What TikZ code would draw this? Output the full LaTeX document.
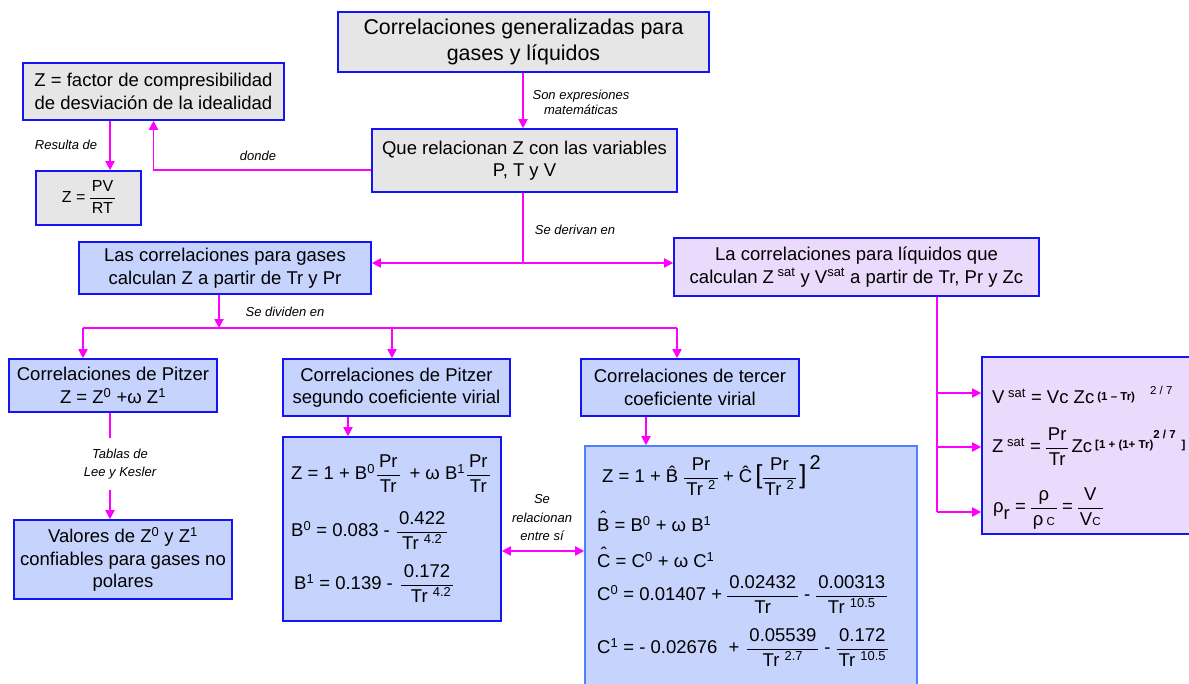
\documentclass[tikz,border=0pt]{standalone}
\usepackage{fontspec}
\setmainfont{Liberation Sans}
\usetikzlibrary{arrows.meta}
\definecolor{gfill}{RGB}{230,230,230}
\definecolor{bfill}{RGB}{198,211,252}
\definecolor{lfill}{RGB}{234,218,252}
\definecolor{bblue}{RGB}{20,20,245}
\definecolor{mblue}{RGB}{80,128,255}
\definecolor{mag}{RGB}{255,0,255}
\newcommand{\fs}{\fontsize{18.5}{22.5}\selectfont}
\newcommand{\fsA}{\fontsize{21.4}{26}\selectfont}
\newcommand{\fsC}{\fontsize{16}{19}\selectfont}
\newcommand{\smb}{\fontsize{11.5}{13}\selectfont\bfseries}
\newcommand{\sml}{\fontsize{11.5}{13}\selectfont}
\newcommand{\fr}[2]{{\renewcommand{\arraystretch}{1.1}\setlength{\arrayrulewidth}{0.9pt}\begin{tabular}{@{\hspace{2pt}}c@{\hspace{2pt}}}#1\\\hline #2\end{tabular}}}
\newcommand{\hatx}[2][5pt]{\ooalign{#2\cr\hidewidth\raisebox{#1}{ˆ}\hidewidth\cr}}
\begin{document}
\begin{tikzpicture}[x=1pt,y=-1pt,
  box/.style={draw=bblue,line width=1.6pt,inner sep=0pt,align=center,font=\fs,text=black},
  gbox/.style={box,fill=gfill},
  bbox/.style={box,fill=bfill},
  lbox/.style={box,fill=lfill},
  lab/.style={font=\itshape\fontsize{13}{16}\selectfont,align=center,inner sep=1pt,text=black},
  fm/.style={font=\fs,inner sep=0pt,anchor=west,text=black},
  con/.style={draw=mag,line width=1.8pt},
  arr/.style={con,-{Triangle[length=9pt,width=9pt]}}]
\useasboundingbox (0,0) rectangle (1189,683);

% boxes
\node[gbox,font=\fsA,minimum width=371pt,minimum height=60pt] (A) at (523.5,42) {Correlaciones generalizadas para\\gases y líquidos};
\node[gbox,minimum width=261pt,minimum height=57pt] (B) at (153.5,91.5) {Z = factor de compresibilidad\\de desviación de la idealidad};
\node[gbox,font=\fsC,minimum width=105pt,minimum height=54pt] (C) at (88.5,198) {Z = \fr{PV}{RT}};
\node[gbox,minimum width=305pt,minimum height=63pt] (D) at (524.5,160.5) {Que relacionan Z con las variables\\P, T y V};
\node[bbox,minimum width=292pt,minimum height=52pt] (E) at (225,268) {Las correlaciones para gases\\calculan Z a partir de Tr y Pr};
\node[lbox,minimum width=365pt,minimum height=58pt] (F) at (856.5,267) {La correlaciones para líquidos que\\calculan Z\textsuperscript{ sat} y V\textsuperscript{sat} a partir de Tr, Pr y Zc};
\node[bbox,minimum width=208pt,minimum height=53pt] (H) at (113,385.5) {Correlaciones de Pitzer\\Z = Z\textsuperscript{0} +ω Z\textsuperscript{1}};
\node[bbox,minimum width=227pt,minimum height=57pt] (I) at (396.5,387.5) {Correlaciones de Pitzer\\segundo coeficiente virial};
\node[bbox,minimum width=218pt,minimum height=57pt] (J) at (690,387.5) {Correlaciones de tercer\\coeficiente virial};
\node[bbox,minimum width=218pt,minimum height=79pt] (K) at (123,559.5) {Valores de Z\textsuperscript{0} y Z\textsuperscript{1}\\confiables para gases no\\polares};
\node[bbox,minimum width=218pt,minimum height=184pt] (L) at (392,529) {};
\node[bbox,draw=mblue,minimum width=332pt,minimum height=254pt] (M) at (751,573) {};
\node[lbox,minimum width=218pt,minimum height=177pt] (G) at (1091,445.5) {};

% formulas in L
\node[fm] (L1) at (291,475) {Z = 1 + B\textsuperscript{0}\hspace{2pt}\fr{Pr}{Tr}\hspace{10pt}+ ω B\textsuperscript{1}\hspace{2pt}\fr{Pr}{Tr}};
\node[fm] (L2) at (291,532) {B\textsuperscript{0} = 0.083 - \hspace{2pt}\fr{0.422}{Tr \textsuperscript{4.2}}};
\node[fm] (L3) at (294,585) {B\textsuperscript{1} = 0.139 -\hspace{8pt}\fr{0.172}{\hspace{8pt}Tr \textsuperscript{4.2}}};

% formulas in M
\node[fm] (M1) at (602,478) {Z = 1 + \hatx[3pt]{B}\hspace{6pt}\fr{Pr}{Tr \textsuperscript{2}} + \hatx[3pt]{C}\,\raisebox{-1pt}{\fontsize{26}{26}\selectfont[}\fr{Pr}{Tr \textsuperscript{2}}\,\raisebox{-1pt}{\fontsize{26}{26}\selectfont]}\hspace{3pt}\raisebox{13pt}{\fontsize{20}{22}\selectfont 2}};
\node[fm] (M2) at (597,524) {\hatx[7pt]{B} = B\textsuperscript{0} + ω B\textsuperscript{1}};
\node[fm] (M3) at (597,560) {\hatx[7pt]{C} = C\textsuperscript{0} + ω C\textsuperscript{1}};
\node[fm] (M4) at (597,596) {C\textsuperscript{0} = 0.01407 + \fr{0.02432}{Tr}\hspace{6pt}-\hspace{6pt}\fr{0.00313}{Tr \textsuperscript{10.5}}};
\node[fm] (M5) at (597,649) {C\textsuperscript{1} = - 0.02676\hspace{6pt} +\hspace{8pt}\fr{0.05539}{Tr \textsuperscript{2.7}}\hspace{6pt}-\hspace{6pt}\fr{0.172}{Tr \textsuperscript{10.5}}};

% formulas in G
\node[fm] (G1) at (992,395) {V\textsuperscript{ sat} = Vc Zc\,\raisebox{3pt}{\smb(1 – Tr)}\hspace{15pt}\raisebox{9pt}{\sml 2 / 7}};
\node[fm] (G2) at (992,448) {Z\textsuperscript{ sat} = \fr{Pr}{Tr}\,Zc\,\raisebox{4pt}{\smb[1 + (1+ Tr)}\raisebox{14pt}{\smb 2 / 7}\hspace{6pt}\raisebox{4pt}{\smb ]}};
\node[fm] (G3) at (993,508) {ρ\raisebox{-7pt}{r} = \fr{ρ}{ρ\,{\sml C}} = \fr{V}{V{\sml C}}};

% connector labels
\node[lab,font=\itshape\fontsize{13}{15}\selectfont] (l1) at (581,102) {Son expresiones\\matemáticas};
\node[lab] (l2) at (258,156) {donde};
\node[lab] (l3) at (66,145) {Resulta de};
\node[lab] (l4) at (575,230) {Se derivan en};
\node[lab] (l5) at (285,312) {Se dividen en};
\node[lab,font=\itshape\fontsize{13}{18}\selectfont,inner ysep=11pt] (tab) at (120,464) {Tablas de\\Lee y Kesler};
\node[lab,font=\itshape\fontsize{13}{18.5}\selectfont] (l7) at (542,518) {Se\\relacionan\\entre sí};

% coordinates
\coordinate (ad) at (523,0);
\coordinate (dy) at (0,170);
\coordinate (bc) at (110,0);
\coordinate (j1) at (523,263);
\coordinate (bus0) at (219,328);
\coordinate (bl) at (83,328);
\coordinate (bm) at (392,328);
\coordinate (br) at (677,328);
\coordinate (hk) at (110,0);
\coordinate (il) at (348,0);
\coordinate (jm) at (646,0);
\coordinate (lm) at (0,551);
\coordinate (fg1) at (937,393);
\coordinate (fg2) at (937,447);
\coordinate (fg3) at (937,512);

% connectors
\draw[arr] (ad |- A.south) -- (ad |- D.north);
\draw[arr] (D.west |- dy) -| (B.south);
\draw[arr] (bc |- B.south) -- (bc |- C.north);
\draw[con] (j1 |- D.south) -- (j1);
\draw[arr] (j1) -- (j1 -| E.east);
\draw[arr] (j1) -- (j1 -| F.west);
\draw[arr] (bus0 |- E.south) -- (bus0);
\draw[con] (bl) -- (br);
\draw[arr] (bl) -- (bl |- H.north);
\draw[arr] (bm) -- (bm |- I.north);
\draw[arr] (br) -- (br |- J.north);
\draw[con] (hk |- H.south) -- (hk |- tab.north);
\draw[arr] (hk |- tab.south) -- (hk |- K.north);
\draw[arr] (il |- I.south) -- (il |- L.north);
\draw[arr] (jm |- J.south) -- (jm |- M.north);
\draw[con,{Triangle[length=9pt,width=9pt]}-{Triangle[length=9pt,width=9pt]}] (L.east |- lm) -- (M.west |- lm);
\draw[con] (fg1 |- F.south) -- (fg3);
\draw[arr] (fg1) -- (fg1 -| G.west);
\draw[arr] (fg2) -- (fg2 -| G.west);
\draw[arr] (fg3) -- (fg3 -| G.west);
\end{tikzpicture}
\end{document}
